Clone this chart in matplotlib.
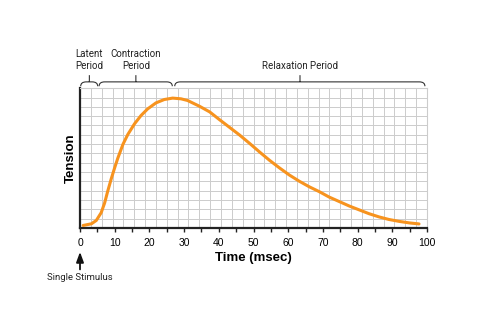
import matplotlib.pyplot as plt
from matplotlib.path import Path
from matplotlib.patches import PathPatch
from matplotlib import transforms

# twitch curve (time in msec, tension as fraction of axis height)
time_ms = [0.9, 3.3, 4.7, 6.1, 7.1, 8.0, 9.0, 10.0, 10.9, 12.4, 13.8, 15.7, 17.6, 19.5,
           21.9, 24.3, 26.7, 29.1, 31.0, 34.5, 37.4, 40.2, 43.1, 46.0, 48.9, 51.7, 54.6,
           57.5, 60.3, 63.2, 66.1, 69.0, 71.8, 74.7, 77.6, 80.5, 83.3, 86.2, 89.0, 92.0,
           95.0, 97.7]
tension = [0.019, 0.031, 0.055, 0.11, 0.18, 0.265, 0.352, 0.432, 0.5, 0.6, 0.67, 0.745,
           0.805, 0.852, 0.895, 0.919, 0.929, 0.924, 0.912, 0.87, 0.83, 0.775, 0.72, 0.665,
           0.605, 0.545, 0.485, 0.43, 0.38, 0.335, 0.295, 0.26, 0.222, 0.19, 0.158, 0.13,
           0.103, 0.08, 0.062, 0.048, 0.037, 0.03]

xticks = list(range(0, 101, 10))
minor_ticks = list(range(5, 100, 10))

# period brackets: start, end, label position, label
period_start = [0.2, 5.5, 27.3]
period_end = [5.1, 26.6, 99.4]
period_mid = [2.7, 16.1, 63.4]
period_label = ["Latent\nPeriod", "Contraction\nPeriod", "Relaxation Period"]

ORANGE = "#f7931e"
GRID = "#cccccc"

fig = plt.figure(figsize=(5, 3.34), dpi=100)
ax = fig.add_axes([0.16, 0.317, 0.694, 0.419])
ax.set_xlim(0, 100)
ax.set_ylim(0, 1)

# graph-paper grid, 32 x 15 cells
for i in range(1, 32):
    ax.axvline(i / 32 * 100, color=GRID, lw=0.7, zorder=0)
for j in range(1, 15):
    ax.axhline(j / 15, color=GRID, lw=0.7, zorder=0)

ax.plot(time_ms, tension, color=ORANGE, lw=2.2, solid_joinstyle="round",
        solid_capstyle="round", zorder=3)

for side in ["top", "right"]:
    ax.spines[side].set_color(GRID)
    ax.spines[side].set_linewidth(0.8)
for side in ["left", "bottom"]:
    ax.spines[side].set_color("#222222")
    ax.spines[side].set_linewidth(1.6)

ax.set_yticks([])
ax.set_xticks(xticks)
ax.set_xticks(minor_ticks, minor=True)
ax.tick_params(axis="x", which="both", direction="out", length=3, width=1,
               color="#222222", pad=4)
ax.set_xticklabels([str(t) for t in xticks], fontsize=7.5, family="Liberation Sans")

ax.set_xlabel("Time (msec)", fontsize=9.5, fontweight="bold", family="Liberation Sans",
              labelpad=3)
ax.set_ylabel("Tension", fontsize=9.5, fontweight="bold", family="Liberation Sans",
              labelpad=2)

# curly brackets above the plot
trans = transforms.blended_transform_factory(ax.transData, ax.transAxes)
y_line, y_end, y_tip = 1.045, 1.014, 1.093
r = 1.6
for x0, x1, xm, label in zip(period_start, period_end, period_mid, period_label):
    verts = [(x0, y_end), (x0, y_line), (x0 + r, y_line),
             (x1 - r, y_line), (x1, y_line), (x1, y_end),
             (xm, y_line), (xm, y_tip)]
    codes = [Path.MOVETO, Path.CURVE3, Path.CURVE3,
             Path.LINETO, Path.CURVE3, Path.CURVE3,
             Path.MOVETO, Path.LINETO]
    ax.add_patch(PathPatch(Path(verts, codes), transform=trans, fill=False,
                           edgecolor="#333333", lw=0.8, clip_on=False))
    ax.text(xm, 1.125, label, transform=trans, ha="center", va="bottom",
            fontsize=7, family="Roboto", color="#222222", linespacing=1.25)

# stimulus arrow under t = 0
ax.annotate("", xy=(0, -0.17), xytext=(0, -0.295), xycoords=trans, textcoords=trans,
            arrowprops=dict(arrowstyle="-|>,head_length=0.6,head_width=0.22",
                            color="#111111", lw=1.3, shrinkA=0, shrinkB=0))
fig.text(80 / 500, 1 - 278 / 334, "Single Stimulus", ha="center", va="center",
         fontsize=6.8, family="Roboto", color="#222222")

fig.savefig("out.png", dpi=100, facecolor="white")
